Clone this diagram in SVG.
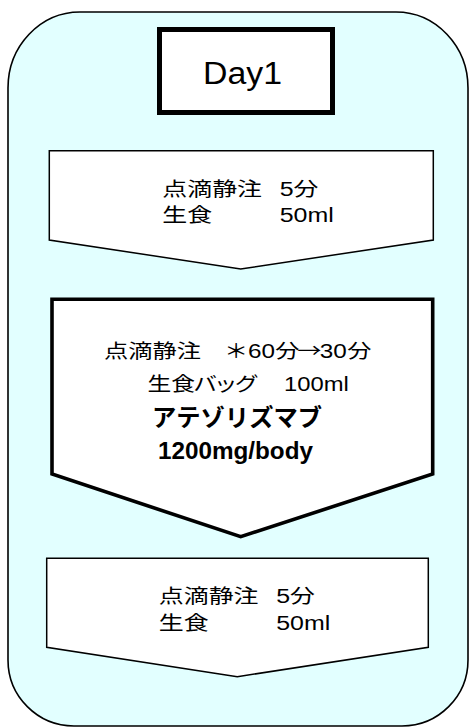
<svg xmlns="http://www.w3.org/2000/svg" width="470" height="727" viewBox="0 0 470 727">
  <style>
    .frame { fill: #e2ffff; stroke: #000; stroke-width: 1.6; }
    .step { fill: #fff; stroke: #000; stroke-width: 1.5; stroke-linejoin: miter; }
    .main { fill: #fff; stroke: #000; stroke-width: 3.6; stroke-linejoin: miter; }
    .title { fill: #fff; stroke: #000; stroke-width: 5; }
    text { font-family: "Liberation Sans", "Noto Sans CJK JP", sans-serif; fill: #000; }
    .t { font-size: 19.5px; }
    .b { font-weight: bold; }
    .cjk { font-family: "Noto Sans CJK JP", sans-serif; }
    .palt { font-feature-settings: "palt"; }
  </style>
  <g id="container">
    <path class="frame" d="M 80,12 H 396 A 72,76 0 0 1 468,88 V 660 A 66,66 0 0 1 402,726 H 74 A 66,66 0 0 1 8,660 V 88 A 72,76 0 0 1 80,12 Z"/>
  </g>
  <g id="day1">
    <rect class="title" x="159.5" y="29.5" width="173" height="83"/>
    <text x="203" y="84" font-size="31" textLength="79" lengthAdjust="spacingAndGlyphs">Day1</text>
  </g>
  <g id="step1">
    <polygon class="step" points="49.3,150.7 433.3,150.7 433.3,240 240.7,269 49.3,240"/>
    <text class="t" transform="translate(162.3 195.5) scale(1.28 1)"><tspan x="0">点滴静注</tspan><tspan x="91.7">5分</tspan></text>
    <text class="t" transform="translate(162.3 222) scale(1.28 1)"><tspan x="0">生食</tspan><tspan x="91.7">50ml</tspan></text>
  </g>
  <g id="step2">
    <polygon class="main" points="52,299.3 432.7,299.3 432.7,474 240.7,536.7 52,474"/>
    <text class="t" transform="translate(104 357.5) scale(1.245 1)"><tspan x="0">点滴静注</tspan><tspan x="96.4" class="cjk">＊</tspan><tspan x="115.7">60</tspan><tspan x="137.5">分</tspan><tspan x="155.2" class="cjk">→</tspan><tspan x="173.3">30</tspan><tspan x="195.4">分</tspan></text>
    <text class="t" transform="translate(147.5 391) scale(1.22 1)"><tspan x="0">生食</tspan><tspan x="38.1" class="palt">バッグ</tspan><tspan x="111.9">100ml</tspan></text>
    <text class="b" x="152" y="425.5" font-size="24" textLength="170" lengthAdjust="spacingAndGlyphs">アテゾリズマブ</text>
    <text class="b" x="158" y="458.5" font-size="23.5" textLength="155" lengthAdjust="spacingAndGlyphs">1200mg/body</text>
  </g>
  <g id="step3">
    <polygon class="step" points="46.7,558.3 428.3,558.3 428.3,647.3 237.3,676.7 46.7,647.3"/>
    <text class="t" transform="translate(158.8 602.5) scale(1.28 1)"><tspan x="0">点滴静注</tspan><tspan x="91.7">5分</tspan></text>
    <text class="t" transform="translate(158.8 630) scale(1.28 1)"><tspan x="0">生食</tspan><tspan x="91.7">50ml</tspan></text>
  </g>
  <g id="connectors"/>
</svg>
